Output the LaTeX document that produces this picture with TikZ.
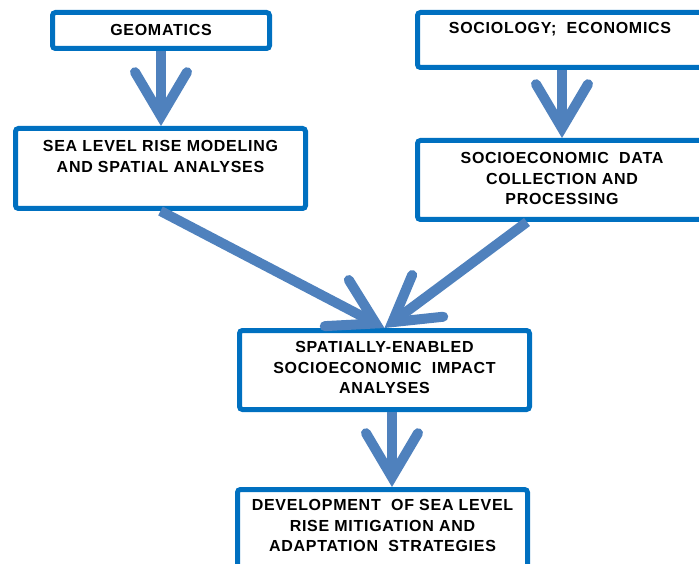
\documentclass[tikz,border=0pt]{standalone}
\usepackage{fontspec}
\setmainfont{Liberation Sans}[LetterSpace=4.5]
\usetikzlibrary{arrows.meta,calc}

\definecolor{boxblue}{RGB}{0,112,192}
\definecolor{arrowblue}{RGB}{79,129,189}

% text block set at the top of a box: height, width, top padding, lines
\newcommand{\stagetext}[4]{%
  \parbox[c][#1][t]{#2}{\centering\vspace*{#3}#4\par}}

\tikzset{
  stage/.style={draw=boxblue, line width=5pt, rounded corners=3pt,
    fill=white, inner sep=0pt,
    font=\bfseries\fontsize{16}{20.5}\selectfont},
  flow/.style={draw=arrowblue, line width=10pt, line cap=butt,
    -{Straight Barb[length=44pt, width=52pt, line width=10pt,
       line cap=round, line join=miter]}},
}

\begin{document}
\begin{tikzpicture}[x=1pt, y=-1pt]
  \clip (0,0) rectangle (699,564);

  % stages
  \node[stage] (geo) at (161,30.5)
    {\stagetext{36pt}{217pt}{12pt}{GEOMATICS}};
  \node[stage] (slr) at (160.5,168.5)
    {\stagetext{80pt}{290pt}{12pt}{SEA LEVEL RISE MODELING\\AND SPATIAL ANALYSES}};
  \node[stage] (soc) at (560,40)
    {\stagetext{55pt}{285pt}{9.5pt}{SOCIOLOGY;\ \ ECONOMICS}};
  \node[stage] (dat) at (562,180)
    {\stagetext{79pt}{289pt}{12pt}{SOCIOECONOMIC\ \ DATA\\COLLECTION AND\\PROCESSING}};
  \node[stage] (imp) at (384.5,370)
    {\stagetext{79pt}{290pt}{11pt}{SPATIALLY-ENABLED\\SOCIOECONOMIC\ \ IMPACT\\ANALYSES}};
  \node[stage] (dev) at (382.5,529.5)
    {\stagetext{80pt}{290pt}{10pt}{DEVELOPMENT\ \ OF SEA LEVEL\\RISE MITIGATION AND\\ADAPTATION\ \ STRATEGIES}};

  % flow between stages
  \draw[flow] (geo.south) -- (geo.south |- slr.north);
  \draw[flow] (dat.north |- soc.south) -- (dat.north);
  \coordinate (impout) at ($(imp.south)+(7.5,0)$);
  \draw[flow] (impout) -- (impout |- dev.north);
  \draw[flow] (slr.south) -- (imp.north);
  \draw[flow] ($(dat.south)+(-35,0)$) -- (imp.north);
\end{tikzpicture}
\end{document}
